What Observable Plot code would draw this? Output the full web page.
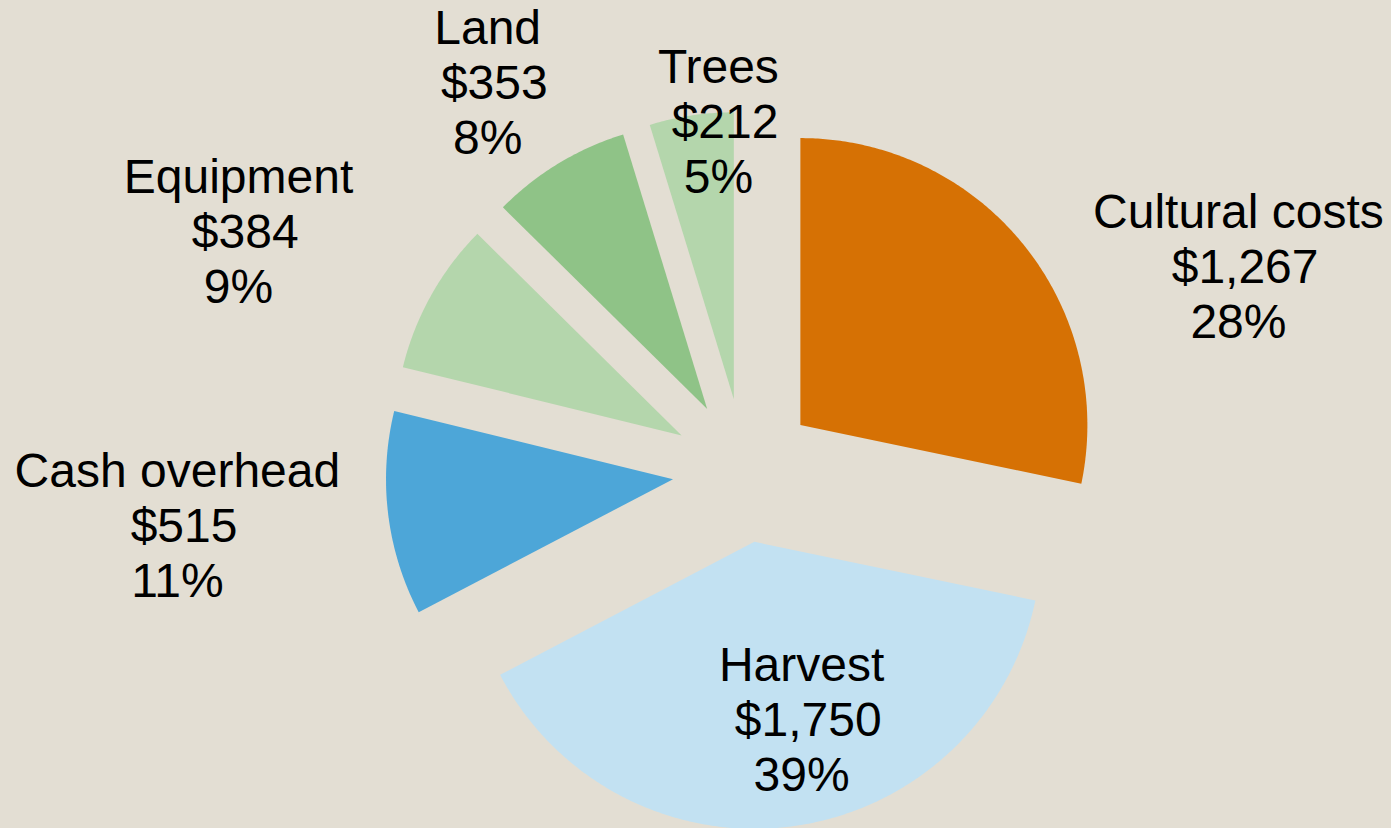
<!DOCTYPE html>
<html><head><meta charset="utf-8">
<script src="https://cdn.jsdelivr.net/npm/d3@7"></script>
<script src="https://cdn.jsdelivr.net/npm/@observablehq/plot@0.6"></script>
<style>
html,body{margin:0;padding:0;background:#E3DED3;}
#chart{width:1391px;height:828px;overflow:hidden;}
</style>
</head><body><div id="chart"></div>
<script>
// ---- data ----
const categories = ["Cultural costs", "Harvest", "Cash overhead", "Equipment", "Land", "Trees"];
const values = [1267, 1750, 515, 384, 353, 212];
const colors = ["#D67104", "#C2E1F2", "#4DA6D8", "#B4D6AC", "#8FC387", "#B4D6AC"];
// label anchors, in pie-radius units from the pie centre (layout only)
const labelX = [1.721, 0.199, -1.976, -1.763, -0.895, -0.091];
const labelY = [0.714, -0.865, -0.189, 0.836, 1.355, 1.219];

// ---- layout ----
const W = 1391, H = 828;
const R = 287, CX = 744, CY = 470;   // pie radius & centre in px
const explode = 72 / R;

const total = d3.sum(values);
let start = 0;
const slices = categories.map((name, i) => {
  const a0 = start, a1 = start + values[i] / total * 2 * Math.PI;
  start = a1;
  return {name, a0, a1, mid: (a0 + a1) / 2};
});
const pts = [];
for (const s of slices) {
  const ox = explode * Math.sin(s.mid), oy = explode * Math.cos(s.mid);
  pts.push({name: s.name, x: ox, y: oy});
  const n = Math.max(2, Math.ceil((s.a1 - s.a0) / (Math.PI / 360)));
  for (let k = 0; k <= n; k++) {
    const a = s.a0 + (s.a1 - s.a0) * k / n;
    pts.push({name: s.name, x: ox + Math.sin(a), y: oy + Math.cos(a)});
  }
  pts.push({name: s.name, x: ox, y: oy});
}
const fmt = d3.format(",");
const pct = d3.format(".0%");
const labels = categories.map((name, i) => ({
  name, x: labelX[i], y: labelY[i],
  text: `${name}\n\u00a0$${fmt(values[i])}\n${pct(values[i] / total)}`
}));

const chart = Plot.plot({
  width: W, height: H, margin: 0,
  x: {domain: [-CX / R, (W - CX) / R], axis: null},
  y: {domain: [(CY - H) / R, CY / R], axis: null},
  color: {domain: categories, range: colors},
  style: {background: "#E3DED3", fontFamily: "'Liberation Sans', Arial, sans-serif", overflow: "hidden"},
  marks: [
    Plot.line(pts, {x: "x", y: "y", z: "name", fill: "name", stroke: "none", curve: "linear"}),
    Plot.text(labels, {x: "x", y: "y", text: "text", fontSize: 48, lineHeight: 1.146,
      fill: "black", fontFamily: "'Liberation Sans', Arial, sans-serif", textAnchor: "middle"})
  ]
});
document.getElementById("chart").appendChild(chart);
</script>
</body></html>
